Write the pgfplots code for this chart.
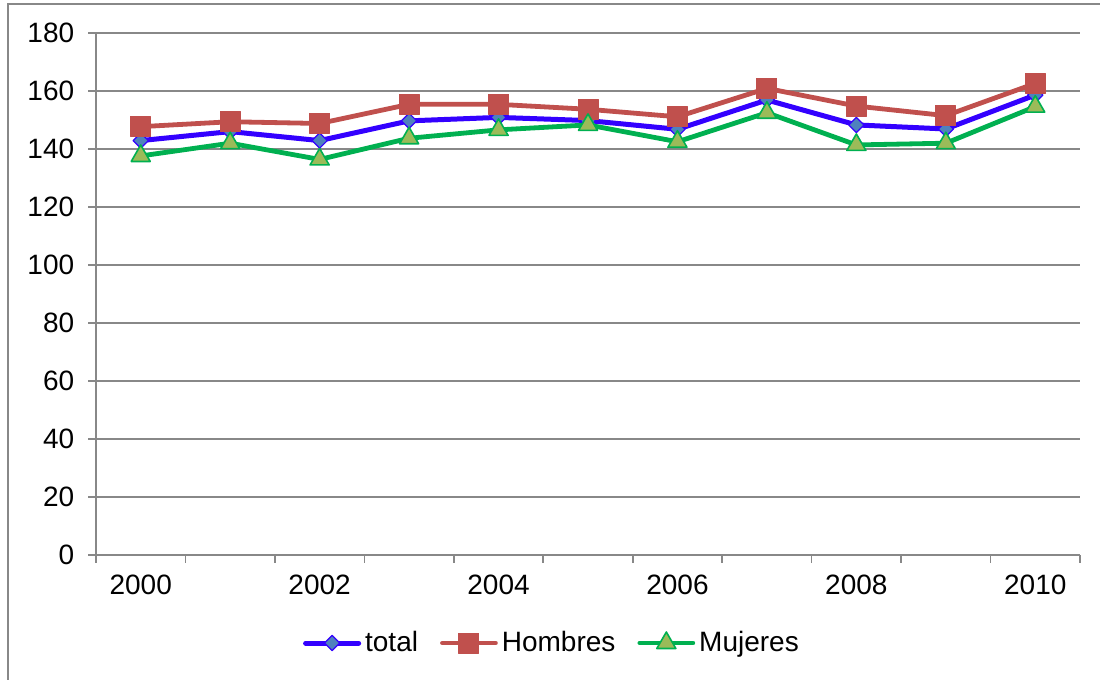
\documentclass[border=0pt]{standalone}
\usepackage{fontspec}
\setmainfont{Liberation Sans}
\usepackage{pgfplots}
\pgfplotsset{compat=1.18}
\definecolor{gridgray}{HTML}{888888}
\definecolor{totline}{HTML}{3300FF}
\definecolor{totfill}{HTML}{4F81BD}
\definecolor{hom}{HTML}{C0504D}
\definecolor{mujline}{HTML}{00B050}
\definecolor{mujfill}{HTML}{9BBB59}
\begin{document}
\begin{tikzpicture}
\useasboundingbox (0,0) rectangle (550pt,340pt);
\clip (0,0) rectangle (550pt,340pt);
\draw[gridgray, line width=1pt] (4pt,-20pt) -- (4pt,338pt) -- (570pt,338pt);
\begin{axis}[
  at={(48pt,62.5pt)}, anchor=south west,
  scale only axis, width=492pt, height=261pt,
  xmin=1999.5, xmax=2010.5, ymin=0, ymax=180,
  axis lines*=left,
  axis line style={draw=gridgray, line width=0.8pt, -},
  xtick={1999.5,2000.5,...,2010.5}, xticklabels={},
  extra x ticks={2000,2002,2004,2006,2008,2010},
  extra x tick labels={2000,2002,2004,2006,2008,2010},
  extra x tick style={major tick length=0pt, grid=none, tick label style={yshift=-6.5pt}},
  ytick={0,20,...,180},
  ymajorgrids, grid style={gridgray, line width=0.8pt},
  tick align=outside, major tick length=4pt,
  tick style={gridgray, line width=0.8pt},
  tick label style={font=\fontsize{14}{16}\selectfont},
  yticklabel style={xshift=-3.4pt},
  /pgf/number format/assume math mode=true,
  /pgf/number format/1000 sep={},
  legend style={at={(0.4644,-0.1686)}, anchor=center, draw=none, fill=none,
    font=\fontsize{14}{16}\selectfont,
    /tikz/every even column/.append style={column sep=9pt}},
  legend columns=3,
  legend image code/.code={\draw[#1, mark repeat=2, mark phase=2] plot coordinates {(0pt,0pt) (13.25pt,0pt) (26.5pt,0pt)};},
  every axis plot/.append style={line cap=round, line join=round},
]
\addplot[color=totline, line width=2.5pt, mark=square*, mark size=2.7pt,
  mark options={rotate=45, fill=totfill, draw=totline, line width=0.6pt}]
  coordinates {(2000,142.9) (2001,146.0) (2002,142.9) (2003,149.7) (2004,150.9) (2005,149.8) (2006,146.8) (2007,156.9) (2008,148.3) (2009,146.9) (2010,158.6)};
\addlegendentry{total}
\addplot[color=hom, line width=2.4pt, mark=square*, mark size=5pt,
  mark options={fill=hom, draw=hom, line width=0.5pt}]
  coordinates {(2000,147.7) (2001,149.4) (2002,148.8) (2003,155.4) (2004,155.4) (2005,153.7) (2006,151.1) (2007,160.9) (2008,154.8) (2009,151.5) (2010,162.6)};
\addlegendentry{Hombres}
\addplot[color=mujline, line width=2.4pt, mark=triangle*, mark size=5.5pt,
  mark options={fill=mujfill, draw=mujline, line width=0.8pt}]
  coordinates {(2000,137.6) (2001,142.0) (2002,136.4) (2003,143.7) (2004,146.6) (2005,148.3) (2006,142.5) (2007,152.5) (2008,141.4) (2009,142.0) (2010,154.6)};
\addlegendentry{Mujeres}
\end{axis}
\end{tikzpicture}
\end{document}
